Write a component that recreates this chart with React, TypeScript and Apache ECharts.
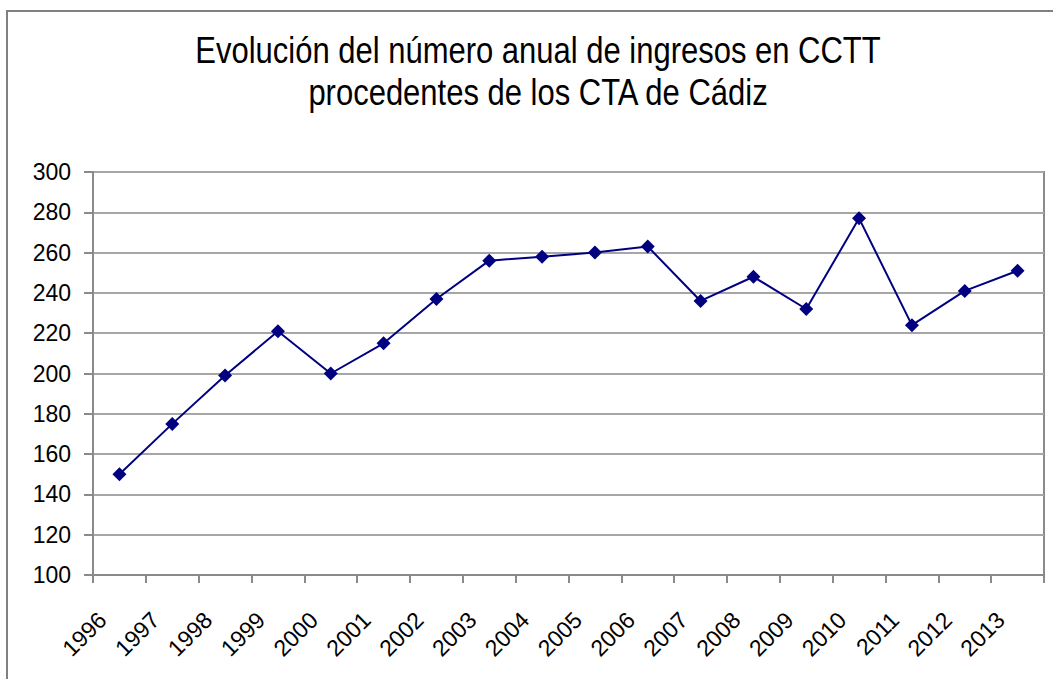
import React, { useEffect, useRef } from "react";
import * as echarts from "echarts";

const titleLines = [
  "Evolución del número anual de ingresos en CCTT",
  "procedentes de los CTA de Cádiz",
];
const years = [
  "1996", "1997", "1998", "1999", "2000", "2001", "2002", "2003", "2004",
  "2005", "2006", "2007", "2008", "2009", "2010", "2011", "2012", "2013",
];
const ingresos = [
  150, 175, 199, 221, 200, 215, 237, 256, 258,
  260, 263, 236, 248, 232, 277, 224, 241, 251,
];
const yMin = 100;
const yMax = 300;
const yStep = 20;

export default function App() {
  const ref = useRef<HTMLDivElement>(null);
  useEffect(() => {
    document.body.style.margin = "0";
    const chart = echarts.init(ref.current!, undefined, { renderer: "svg" });
    const font = "'Liberation Sans', Arial, Helvetica, sans-serif";
    chart.setOption({
      animation: false,
      backgroundColor: "#ffffff",
      graphic: [
        {
          type: "rect",
          shape: { x: 7, y: 11, width: 1100, height: 720 },
          style: { fill: "none", stroke: "#808080", lineWidth: 2 },
          silent: true,
        },
        {
          type: "text",
          x: 538,
          y: 29,
          scaleY: 1.17,
          style: {
            text: titleLines.join("\n"),
            font: `31px ${font}`,
            fill: "#000000",
            textAlign: "center",
            textVerticalAlign: "top",
            lineHeight: 36,
          },
          silent: true,
        },
      ],
      grid: {
        left: 93,
        top: 172,
        right: 9,
        bottom: 104,
        show: true,
        borderColor: "#8a8a8a",
        borderWidth: 2,
      },
      xAxis: {
        type: "category",
        data: years,
        boundaryGap: true,
        axisLine: { show: true, lineStyle: { color: "#8a8a8a", width: 2 } },
        axisTick: { show: true, length: 8, lineStyle: { color: "#8a8a8a", width: 2 } },
        axisLabel: {
          rotate: 45,
          interval: 0,
          margin: 24,
          padding: [0, 24, 0, 0],
          color: "#000000",
          fontSize: 23,
          fontFamily: font,
        },
        splitLine: { show: false },
      },
      yAxis: {
        type: "value",
        min: yMin,
        max: yMax,
        interval: yStep,
        axisLine: { show: true, lineStyle: { color: "#8a8a8a", width: 2 } },
        axisTick: { show: true, length: 9, lineStyle: { color: "#8a8a8a", width: 2 } },
        axisLabel: {
          margin: 22,
          color: "#000000",
          fontSize: 23,
          fontFamily: font,
        },
        splitLine: { show: true, lineStyle: { color: "#a6a6a6", width: 2 } },
      },
      series: [
        {
          type: "line",
          data: ingresos,
          symbol: "diamond",
          symbolSize: 14,
          lineStyle: { color: "#000080", width: 2 },
          itemStyle: { color: "#000080" },
        },
      ],
    });
    return () => chart.dispose();
  }, []);
  return <div ref={ref} style={{ width: 1053, height: 679 }} />;
}
